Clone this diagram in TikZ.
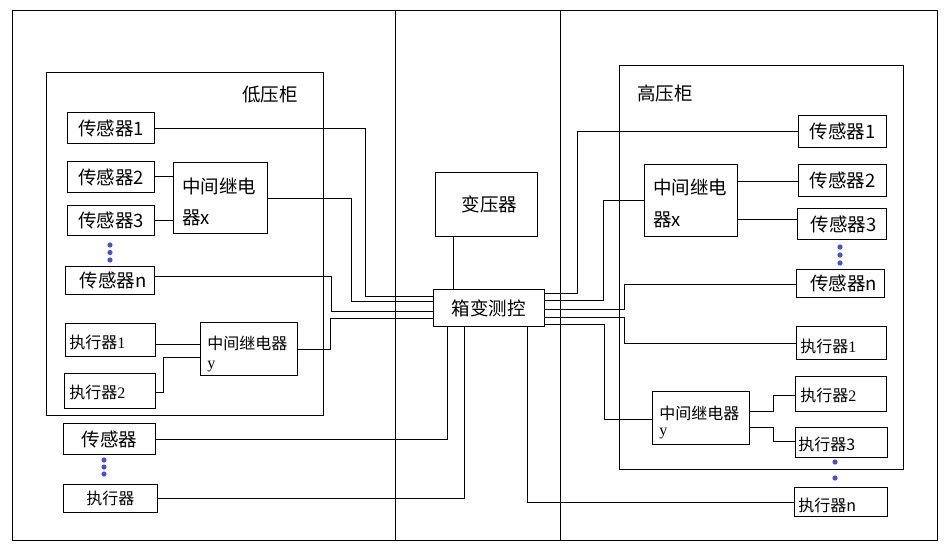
\documentclass[tikz,border=0pt]{standalone}
\usepackage{fontspec}
\setmainfont{Noto Sans CJK SC}
\newfontfamily\serifdig{Liberation Serif}
\definecolor{dotblue}{RGB}{70,82,212}
\begin{document}
\begin{tikzpicture}[x=1pt,y=-1pt,line width=0.9pt,
  box/.style={draw,inner sep=0pt,anchor=north west},
  big/.style={font=\fontsize{18.5}{21}\selectfont},
  small/.style={font=\fontsize{16}{18}\selectfont},
  lbl/.style={inner sep=0pt,anchor=west},
  dot/.style={fill=dotblue,draw=none}]
\useasboundingbox (0,0) rectangle (946,549);
% outer frame and dividers
\draw (12,10) rectangle (937,540);
\draw (395,10) -- (395,540);
\draw (560,10) -- (560,540);
% ---------- left cabinet ----------
\node[box,minimum width=277,minimum height=343] (LP) at (46,72) {};
\node[big,inner sep=0pt] (LPt) at (270,95) {低压柜};
\node[box,big,minimum width=87,minimum height=31] (LS1) at (67,112) {传感器1};
\node[box,big,minimum width=87,minimum height=31] (LS2) at (67,161) {传感器2};
\node[box,big,minimum width=87,minimum height=30] (LS3) at (67,205) {传感器3};
\node[box,minimum width=94,minimum height=71] (LRX) at (173,162) {};
\node[lbl,big] (LRXa) at (182,186) {中间继电};
\node[lbl,big] (LRXb) at (182,218) {器x};
\node[box,big,minimum width=89,minimum height=28] (LSn) at (65,266) {\hspace{6pt}传感器n};
\node[box,minimum width=90,minimum height=33] (LA1) at (65,323) {};
\node[lbl,small] (LA1t) at (69,342) {执行器{\serifdig 1}};
\node[box,minimum width=91,minimum height=35] (LA2) at (64,373) {};
\node[lbl,small] (LA2t) at (69,392) {执行器{\serifdig 2}};
\node[box,minimum width=97,minimum height=53] (LRY) at (200,322) {};
\node[lbl,small] (LRYa) at (207,343) {中间继电器};
\node[lbl,small] (LRYb) at (207,367) {\serifdig y};
\fill[dot] (110,245) circle[radius=2.6pt] (110,252.5) circle[radius=2.6pt] (110,260) circle[radius=2.6pt];
% below left cabinet
\node[box,big,minimum width=92,minimum height=31] (LSB) at (63,423) {传感器};
\node[box,small,minimum width=94,minimum height=28] (LAB) at (63,484) {执行器};
\fill[dot] (104,460) circle[radius=2.6pt] (104,467) circle[radius=2.6pt] (104,474) circle[radius=2.6pt];
% ---------- centre ----------
\node[box,big,minimum width=102,minimum height=64] (TR) at (435,172) {\hspace{6pt}变压器};
\node[box,big,minimum width=111,minimum height=37] (XB) at (433,289) {箱变测控};
% ---------- right cabinet ----------
\node[box,minimum width=284,minimum height=404] (RP) at (619,65) {};
\node[big,inner sep=0pt] (RPt) at (665,93) {高压柜};
\node[box,big,minimum width=88,minimum height=32] (RS1) at (798,115) {传感器1};
\node[box,minimum width=93,minimum height=72] (RRX) at (644,164) {};
\node[lbl,big] (RRXa) at (653,187) {中间继电};
\node[lbl,big] (RRXb) at (653,220) {器x};
\node[box,big,minimum width=88,minimum height=32] (RS2) at (798,164) {传感器2};
\node[box,big,minimum width=89,minimum height=31] (RS3) at (797,208) {\hspace{3pt}传感器3};
\node[box,big,minimum width=88,minimum height=28] (RSn) at (796,269) {\hspace{6pt}传感器n};
\node[box,minimum width=90,minimum height=33] (RA1) at (796,326) {};
\node[lbl,small] (RA1t) at (800,346) {执行器{\serifdig 1}};
\node[box,minimum width=91,minimum height=35] (RA2) at (795,376) {};
\node[lbl,small] (RA2t) at (800,395) {执行器{\serifdig 2}};
\node[box,minimum width=97,minimum height=53] (RRY) at (652,391) {};
\node[lbl,small] (RRYa) at (659,413) {中间继电器};
\node[lbl,small] (RRYb) at (659,434) {\serifdig y};
\node[box,minimum width=92,minimum height=30] (RA3) at (795,427) {};
\node[lbl,small] (RA3t) at (798,444) {执行器3};
\node[box,minimum width=93,minimum height=29] (RAn) at (794,487) {};
\node[lbl,small] (RAnt) at (798,505) {执行器n};
\fill[dot] (840,247) circle[radius=2.6pt] (840,255) circle[radius=2.6pt] (840,263) circle[radius=2.6pt];
\fill[dot] (835,462) circle[radius=2.6pt] (835,478) circle[radius=2.6pt];
% ---------- connectors, left ----------
\draw (LS1.east) -| (365,296) -- (XB.west |- 0,296);
\draw (LRX.east) -| (351,301) -- (XB.west |- 0,301);
\draw ([yshift=4pt]LSn.east) -| (331,311) -- (XB.west |- 0,311);
\draw (LRY.east) -| (330,318) -- (XB.west |- 0,318);
\draw (LA1.east |- 0,344) -- (LRY.west |- 0,344);
\draw (LA2.east |- 0,392) -| (163,357) -- (LRY.west |- 0,357);
\draw (LS2.east |- 0,176) -- (LRX.west |- 0,176);
\draw (LS3.east |- 0,220) -- (LRX.west |- 0,220);
\draw (LSB.east) -| (XB.south -| 447,0);
\draw (LAB.east) -| (XB.south -| 464,0);
\draw (XB.south -| 527,0) |- (RAn.west);
\draw (TR.south -| 453,0) -- (XB.north -| 453,0);
% ---------- connectors, right ----------
\draw (XB.east |- 0,293) -| (577,131) -- (RS1.west |- 0,131);
\draw (XB.east |- 0,300) -| (603,200) -- (RRX.west |- 0,200);
\draw (RRX.east |- 0,181) -- (RS2.west |- 0,181);
\draw (RRX.east |- 0,219) -- (RS3.west |- 0,219);
\draw (XB.east |- 0,309) -| (624,284) -- (RSn.west |- 0,284);
\draw (XB.east |- 0,317) -| (624,343) -- (RA1.west |- 0,343);
\draw (XB.east |- 0,324) -| (604,419) -- (RRY.west |- 0,419);
\draw (RRY.east |- 0,411) -| (773,395) -- (RA2.west |- 0,395);
\draw (RRY.east |- 0,427) -| (773,441) -- (RA3.west |- 0,441);
\end{tikzpicture}
\end{document}
